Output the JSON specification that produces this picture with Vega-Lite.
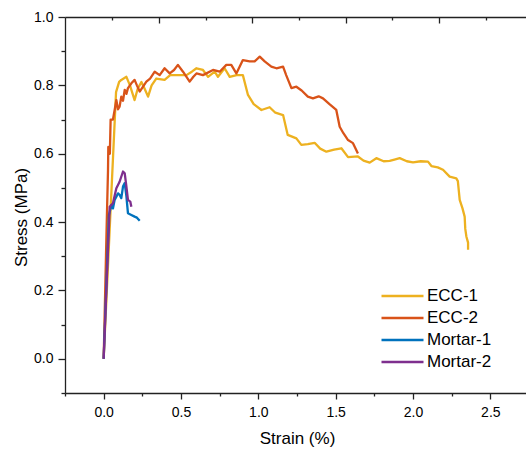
{
  "$schema": "https://vega.github.io/schema/vega-lite/v6.json",
  "autosize": "none",
  "width": 464,
  "height": 376,
  "padding": {"left": 65, "top": 17, "right": 0, "bottom": 57},
  "background": "white",
  "datasets": {
    "curves": [
      {"s":"ECC-1","i":0,"x":0,"y":0},{"s":"ECC-1","i":1,"x":0.08,"y":0.78},{"s":"ECC-1","i":2,"x":0.1,"y":0.81},{"s":"ECC-1","i":3,"x":0.114,"y":0.816},{"s":"ECC-1","i":4,"x":0.147,"y":0.825},{"s":"ECC-1","i":5,"x":0.17,"y":0.8},{"s":"ECC-1","i":6,"x":0.2,"y":0.757},{"s":"ECC-1","i":7,"x":0.22,"y":0.79},{"s":"ECC-1","i":8,"x":0.244,"y":0.81},{"s":"ECC-1","i":9,"x":0.265,"y":0.79},{"s":"ECC-1","i":10,"x":0.287,"y":0.767},{"s":"ECC-1","i":11,"x":0.31,"y":0.8},{"s":"ECC-1","i":12,"x":0.34,"y":0.82},{"s":"ECC-1","i":13,"x":0.394,"y":0.816},{"s":"ECC-1","i":14,"x":0.43,"y":0.83},{"s":"ECC-1","i":15,"x":0.47,"y":0.83},{"s":"ECC-1","i":16,"x":0.535,"y":0.83},{"s":"ECC-1","i":17,"x":0.57,"y":0.84},{"s":"ECC-1","i":18,"x":0.6,"y":0.85},{"s":"ECC-1","i":19,"x":0.642,"y":0.845},{"s":"ECC-1","i":20,"x":0.675,"y":0.825},{"s":"ECC-1","i":21,"x":0.718,"y":0.84},{"s":"ECC-1","i":22,"x":0.739,"y":0.825},{"s":"ECC-1","i":23,"x":0.782,"y":0.85},{"s":"ECC-1","i":24,"x":0.815,"y":0.825},{"s":"ECC-1","i":25,"x":0.86,"y":0.83},{"s":"ECC-1","i":26,"x":0.9,"y":0.83},{"s":"ECC-1","i":27,"x":0.933,"y":0.772},{"s":"ECC-1","i":28,"x":0.97,"y":0.745},{"s":"ECC-1","i":29,"x":1.02,"y":0.728},{"s":"ECC-1","i":30,"x":1.073,"y":0.736},{"s":"ECC-1","i":31,"x":1.11,"y":0.72},{"s":"ECC-1","i":32,"x":1.16,"y":0.713},{"s":"ECC-1","i":33,"x":1.19,"y":0.655},{"s":"ECC-1","i":34,"x":1.246,"y":0.645},{"s":"ECC-1","i":35,"x":1.278,"y":0.626},{"s":"ECC-1","i":36,"x":1.32,"y":0.628},{"s":"ECC-1","i":37,"x":1.364,"y":0.632},{"s":"ECC-1","i":38,"x":1.4,"y":0.615},{"s":"ECC-1","i":39,"x":1.44,"y":0.606},{"s":"ECC-1","i":40,"x":1.49,"y":0.612},{"s":"ECC-1","i":41,"x":1.537,"y":0.616},{"s":"ECC-1","i":42,"x":1.58,"y":0.59},{"s":"ECC-1","i":43,"x":1.644,"y":0.592},{"s":"ECC-1","i":44,"x":1.68,"y":0.58},{"s":"ECC-1","i":45,"x":1.72,"y":0.574},{"s":"ECC-1","i":46,"x":1.763,"y":0.587},{"s":"ECC-1","i":47,"x":1.81,"y":0.578},{"s":"ECC-1","i":48,"x":1.849,"y":0.579},{"s":"ECC-1","i":49,"x":1.88,"y":0.583},{"s":"ECC-1","i":50,"x":1.914,"y":0.587},{"s":"ECC-1","i":51,"x":1.96,"y":0.578},{"s":"ECC-1","i":52,"x":2.0,"y":0.575},{"s":"ECC-1","i":53,"x":2.05,"y":0.578},{"s":"ECC-1","i":54,"x":2.097,"y":0.577},{"s":"ECC-1","i":55,"x":2.119,"y":0.564},{"s":"ECC-1","i":56,"x":2.16,"y":0.56},{"s":"ECC-1","i":57,"x":2.194,"y":0.553},{"s":"ECC-1","i":58,"x":2.237,"y":0.533},{"s":"ECC-1","i":59,"x":2.28,"y":0.528},{"s":"ECC-1","i":60,"x":2.29,"y":0.52},{"s":"ECC-1","i":61,"x":2.302,"y":0.465},{"s":"ECC-1","i":62,"x":2.32,"y":0.44},{"s":"ECC-1","i":63,"x":2.334,"y":0.416},{"s":"ECC-1","i":64,"x":2.338,"y":0.38},{"s":"ECC-1","i":65,"x":2.345,"y":0.358},{"s":"ECC-1","i":66,"x":2.356,"y":0.34},{"s":"ECC-1","i":67,"x":2.356,"y":0.319},
      {"s":"ECC-2","i":0,"x":0,"y":0},{"s":"ECC-2","i":1,"x":0.02,"y":0.4},{"s":"ECC-2","i":2,"x":0.028,"y":0.55},{"s":"ECC-2","i":3,"x":0.03,"y":0.62},{"s":"ECC-2","i":4,"x":0.04,"y":0.6},{"s":"ECC-2","i":5,"x":0.045,"y":0.7},{"s":"ECC-2","i":6,"x":0.06,"y":0.7},{"s":"ECC-2","i":7,"x":0.071,"y":0.728},{"s":"ECC-2","i":8,"x":0.082,"y":0.757},{"s":"ECC-2","i":9,"x":0.092,"y":0.73},{"s":"ECC-2","i":10,"x":0.103,"y":0.738},{"s":"ECC-2","i":11,"x":0.114,"y":0.767},{"s":"ECC-2","i":12,"x":0.125,"y":0.755},{"s":"ECC-2","i":13,"x":0.136,"y":0.787},{"s":"ECC-2","i":14,"x":0.147,"y":0.775},{"s":"ECC-2","i":15,"x":0.157,"y":0.792},{"s":"ECC-2","i":16,"x":0.179,"y":0.806},{"s":"ECC-2","i":17,"x":0.2,"y":0.816},{"s":"ECC-2","i":18,"x":0.215,"y":0.8},{"s":"ECC-2","i":19,"x":0.233,"y":0.782},{"s":"ECC-2","i":20,"x":0.276,"y":0.811},{"s":"ECC-2","i":21,"x":0.3,"y":0.82},{"s":"ECC-2","i":22,"x":0.33,"y":0.84},{"s":"ECC-2","i":23,"x":0.362,"y":0.83},{"s":"ECC-2","i":24,"x":0.394,"y":0.85},{"s":"ECC-2","i":25,"x":0.427,"y":0.835},{"s":"ECC-2","i":26,"x":0.455,"y":0.845},{"s":"ECC-2","i":27,"x":0.48,"y":0.86},{"s":"ECC-2","i":28,"x":0.513,"y":0.84},{"s":"ECC-2","i":29,"x":0.556,"y":0.811},{"s":"ECC-2","i":30,"x":0.58,"y":0.825},{"s":"ECC-2","i":31,"x":0.6,"y":0.835},{"s":"ECC-2","i":32,"x":0.642,"y":0.83},{"s":"ECC-2","i":33,"x":0.707,"y":0.845},{"s":"ECC-2","i":34,"x":0.75,"y":0.84},{"s":"ECC-2","i":35,"x":0.793,"y":0.86},{"s":"ECC-2","i":36,"x":0.825,"y":0.86},{"s":"ECC-2","i":37,"x":0.858,"y":0.835},{"s":"ECC-2","i":38,"x":0.9,"y":0.874},{"s":"ECC-2","i":39,"x":0.944,"y":0.87},{"s":"ECC-2","i":40,"x":0.976,"y":0.87},{"s":"ECC-2","i":41,"x":1.009,"y":0.884},{"s":"ECC-2","i":42,"x":1.041,"y":0.87},{"s":"ECC-2","i":43,"x":1.084,"y":0.855},{"s":"ECC-2","i":44,"x":1.117,"y":0.85},{"s":"ECC-2","i":45,"x":1.16,"y":0.855},{"s":"ECC-2","i":46,"x":1.18,"y":0.83},{"s":"ECC-2","i":47,"x":1.214,"y":0.792},{"s":"ECC-2","i":48,"x":1.246,"y":0.796},{"s":"ECC-2","i":49,"x":1.28,"y":0.785},{"s":"ECC-2","i":50,"x":1.32,"y":0.767},{"s":"ECC-2","i":51,"x":1.353,"y":0.762},{"s":"ECC-2","i":52,"x":1.39,"y":0.768},{"s":"ECC-2","i":53,"x":1.418,"y":0.762},{"s":"ECC-2","i":54,"x":1.46,"y":0.745},{"s":"ECC-2","i":55,"x":1.504,"y":0.728},{"s":"ECC-2","i":56,"x":1.526,"y":0.679},{"s":"ECC-2","i":57,"x":1.55,"y":0.66},{"s":"ECC-2","i":58,"x":1.58,"y":0.64},{"s":"ECC-2","i":59,"x":1.612,"y":0.631},{"s":"ECC-2","i":60,"x":1.644,"y":0.601},
      {"s":"Mortar-1","i":0,"x":0,"y":0},{"s":"Mortar-1","i":1,"x":0.034,"y":0.421},{"s":"Mortar-1","i":2,"x":0.05,"y":0.45},{"s":"Mortar-1","i":3,"x":0.06,"y":0.44},{"s":"Mortar-1","i":4,"x":0.071,"y":0.465},{"s":"Mortar-1","i":5,"x":0.093,"y":0.484},{"s":"Mortar-1","i":6,"x":0.103,"y":0.48},{"s":"Mortar-1","i":7,"x":0.114,"y":0.47},{"s":"Mortar-1","i":8,"x":0.125,"y":0.504},{"s":"Mortar-1","i":9,"x":0.136,"y":0.514},{"s":"Mortar-1","i":10,"x":0.147,"y":0.475},{"s":"Mortar-1","i":11,"x":0.157,"y":0.426},{"s":"Mortar-1","i":12,"x":0.179,"y":0.421},{"s":"Mortar-1","i":13,"x":0.2,"y":0.416},{"s":"Mortar-1","i":14,"x":0.215,"y":0.413},{"s":"Mortar-1","i":15,"x":0.233,"y":0.404},
      {"s":"Mortar-2","i":0,"x":0,"y":0},{"s":"Mortar-2","i":1,"x":0.039,"y":0.445},{"s":"Mortar-2","i":2,"x":0.06,"y":0.455},{"s":"Mortar-2","i":3,"x":0.082,"y":0.499},{"s":"Mortar-2","i":4,"x":0.103,"y":0.518},{"s":"Mortar-2","i":5,"x":0.125,"y":0.548},{"s":"Mortar-2","i":6,"x":0.136,"y":0.543},{"s":"Mortar-2","i":7,"x":0.147,"y":0.504},{"s":"Mortar-2","i":8,"x":0.157,"y":0.465},{"s":"Mortar-2","i":9,"x":0.172,"y":0.46},{"s":"Mortar-2","i":10,"x":0.179,"y":0.445}
    ]
  },
  "data": {"name": "curves"},
  "layer": [
    {
      "mark": {"type": "line", "strokeWidth": 2.3, "strokeJoin": "round", "clip": true},
      "encoding": {
        "x": {
          "field": "x", "type": "quantitative",
          "scale": {"domain": [-0.25, 2.75], "nice": false, "zero": false},
          "axis": {
            "orient": "bottom",
            "title": "Strain (%)",
            "values": [-0.25, 0, 0.25, 0.5, 0.75, 1, 1.25, 1.5, 1.75, 2, 2.25, 2.5, 2.75],
            "labelExpr": "abs(datum.value*2 - round(datum.value*2)) < 0.01 && datum.value > -0.01 ? format(datum.value, '.1f') : ''",
            "tickSize": {"condition": {"test": "abs(datum.value*2 - round(datum.value*2)) < 0.01", "value": 6}, "value": 3},
            "labelPadding": 6,
            "titlePadding": 11
          }
        },
        "y": {
          "field": "y", "type": "quantitative",
          "scale": {"domain": [-0.1, 1.0], "nice": false, "zero": false},
          "axis": {
            "orient": "left",
            "title": "Stress (MPa)",
            "values": [-0.1, 0, 0.1, 0.2, 0.3, 0.4, 0.5, 0.6, 0.7, 0.8, 0.9, 1.0],
            "labelExpr": "abs(datum.value*5 - round(datum.value*5)) < 0.01 ? format(datum.value, '.1f') : ''",
            "tickSize": {"condition": {"test": "abs(datum.value*5 - round(datum.value*5)) < 0.01", "value": 7}, "value": 4},
            "labelPadding": 5,
            "titlePadding": 3,
            "titleY": 200
          }
        },
        "color": {
          "field": "s", "type": "nominal",
          "scale": {"domain": ["ECC-1", "ECC-2", "Mortar-1", "Mortar-2"], "range": ["#EDB120", "#D95319", "#0072BD", "#7E2F8E"]},
          "legend": {
            "orient": "none", "legendX": 315, "legendY": 267, "title": null,
            "symbolType": "M-1,0H3", "symbolSize": 441, "symbolStrokeWidth": 2.6,
            "symbolFillColor": "transparent",
            "labelFontSize": 17, "labelFont": "Liberation Sans", "labelColor": "#000000",
            "labelOffset": 23, "rowPadding": 2
          }
        },
        "order": {"field": "i", "type": "quantitative"}
      }
    },
    {
      "mark": {"type": "rule", "opacity": 0},
      "encoding": {
        "x": {
          "field": "x", "type": "quantitative",
          "axis": {
            "orient": "top",
            "title": null,
            "labels": false,
            "values": [0.0562, 0.3575, 0.6595, 0.9614, 1.263, 1.5646, 1.867, 2.168, 2.47],
            "tickSize": {"condition": {"test": "datum.value == 0.3575 || datum.value == 0.9614 || datum.value == 1.5646 || datum.value == 2.168", "value": -6}, "value": -3}
          }
        }
      }
    }
  ],
  "resolve": {"axis": {"x": "independent"}},
  "config": {
    "view": {"stroke": null},
    "axis": {
      "domainColor": "#222222", "domainWidth": 1.3,
      "tickColor": "#222222", "tickWidth": 1.3,
      "grid": false,
      "labelFont": "Liberation Sans", "labelFontSize": 14, "labelColor": "#000000",
      "titleFont": "Liberation Sans", "titleFontSize": 17, "titleFontWeight": "normal", "titleColor": "#000000"
    }
  }
}
